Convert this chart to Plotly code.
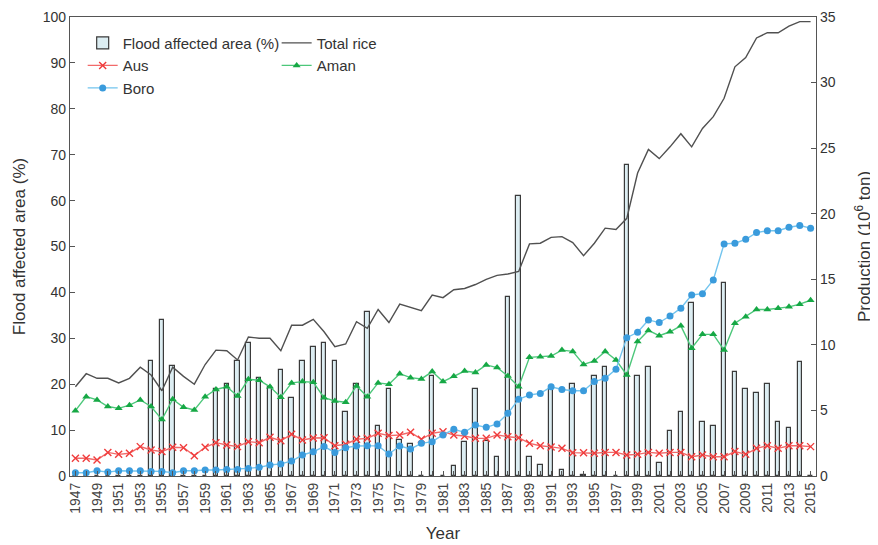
import plotly.graph_objects as go

years = list(range(1947, 2016))

flood_pct = [0, 0, 0, 0, 0, 0, 0, 25, 34, 24, 0, 0, 0, 19, 20, 25, 29, 21.3, 19.5, 23,
             17, 25, 28, 29, 25, 14, 20, 35.8, 11, 19, 7.8, 6.9, 0, 21.8, 0, 2.2, 7.5, 19, 7.6, 4.2,
             38.9, 60.9, 4.2, 2.5, 18.9, 1.4, 20, 0.3, 21.8, 23.8, 0, 67.8, 21.8, 23.8, 2.9, 9.9, 13.9, 37.8, 11.8, 10.9,
             42, 22.6, 19, 18, 20, 11.8, 10.5, 24.9, 0]

total_rice = [6.8, 7.8, 7.45, 7.45, 7.1, 7.45, 8.3, 7.7, 6.5, 8.3, 7.6, 7.0, 8.5, 9.6, 9.55, 8.85, 10.6, 10.5, 10.5, 9.55,
              11.5, 11.5, 11.95, 11.0, 9.86, 10.07, 11.77, 11.26, 12.7, 11.7, 13.1, 12.87, 12.6, 13.8, 13.6, 14.2, 14.3, 14.6, 15.0, 15.3,
              15.4, 15.6, 17.7, 17.75, 18.2, 18.25, 17.8, 16.8, 17.75, 18.9, 18.8, 19.65, 23.1, 24.9, 24.2, 25.1, 26.1, 25.1, 26.5, 27.4,
              28.8, 31.2, 31.9, 33.4, 33.8, 33.8, 34.3, 34.65, 34.65]

aus = [1.35, 1.35, 1.22, 1.8, 1.65, 1.73, 2.24, 1.98, 1.86, 2.19, 2.16, 1.55, 2.19, 2.54, 2.36, 2.24, 2.62, 2.54, 2.95, 2.69,
       3.18, 2.75, 2.9, 2.92, 2.31, 2.42, 2.8, 2.87, 3.26, 3.08, 3.13, 3.33, 2.8, 3.26, 3.38, 3.13, 3.05, 2.87, 2.87, 3.13,
       3.0, 2.92, 2.49, 2.31, 2.22, 2.11, 1.78, 1.78, 1.73, 1.8, 1.8, 1.6, 1.65, 1.8, 1.73, 1.8, 1.8, 1.47, 1.6, 1.47,
       1.47, 1.86, 1.65, 2.11, 2.31, 2.11, 2.31, 2.31, 2.24]

aman = [4.98, 6.05, 5.8, 5.3, 5.16, 5.4, 5.8, 5.3, 4.3, 5.85, 5.24, 5.03, 6.05, 6.6, 6.8, 6.1, 7.37, 7.3, 6.8, 6.0,
        7.1, 7.2, 7.15, 5.97, 5.72, 5.62, 6.87, 6.05, 7.1, 7.0, 7.8, 7.5, 7.4, 7.96, 7.2, 7.6, 8.0, 7.9, 8.47, 8.27,
        7.63, 6.8, 9.05, 9.1, 9.15, 9.6, 9.5, 8.5, 8.77, 9.5, 8.85, 7.7, 10.25, 11.1, 10.7, 11.0, 11.45, 9.74, 10.8, 10.8,
        9.6, 11.65, 12.15, 12.7, 12.7, 12.8, 12.9, 13.1, 13.4]

boro = [0.25, 0.25, 0.4, 0.3, 0.4, 0.4, 0.4, 0.35, 0.35, 0.25, 0.4, 0.4, 0.46, 0.46, 0.5, 0.5, 0.58, 0.66, 0.84, 0.92,
        1.14, 1.6, 1.85, 2.24, 1.8, 2.16, 2.29, 2.3, 2.3, 1.68, 2.29, 2.06, 2.49, 2.62, 3.13, 3.56, 3.33, 3.89, 3.71, 3.97,
        4.78, 5.85, 6.18, 6.3, 6.8, 6.6, 6.5, 6.5, 7.2, 7.45, 8.14, 10.55, 10.96, 11.9, 11.7, 12.2, 12.8, 13.8, 13.9, 14.95,
        17.7, 17.75, 18.05, 18.56, 18.7, 18.7, 18.97, 19.1, 18.9]

x_tick_years = list(range(1947, 2016, 2))
left_ticks = list(range(0, 101, 10))
right_ticks = list(range(0, 36, 5))

FONT = "Liberation Sans, Arial, sans-serif"

fig = go.Figure()

fig.add_trace(go.Bar(
    x=years, y=flood_pct, name="Flood affected area (%)", width=0.42,
    marker=dict(color="#dcedf2", line=dict(color="#3a3a3a", width=1.2)),
    yaxis="y", legend="legend",
))
fig.add_trace(go.Scatter(
    x=years, y=total_rice, name="Total rice", mode="lines",
    line=dict(color="#505050", width=1.4), yaxis="y2", legend="legend2",
))
fig.add_trace(go.Scatter(
    x=years, y=aus, name="Aus", mode="lines+markers",
    line=dict(color="#f26a6a", width=1.4),
    marker=dict(symbol="x-thin", size=7, line=dict(color="#f03c3c", width=1.4), color="#f03c3c"),
    yaxis="y2", legend="legend",
))
fig.add_trace(go.Scatter(
    x=years, y=aman, name="Aman", mode="lines+markers",
    line=dict(color="#4cc77a", width=1.4),
    marker=dict(symbol="triangle-up", size=7, color="#16a845"),
    yaxis="y2", legend="legend2",
))
fig.add_trace(go.Scatter(
    x=years, y=boro, name="Boro", mode="lines+markers",
    line=dict(color="#72c4ee", width=1.4),
    marker=dict(symbol="circle", size=7, color="#3a9bdc"),
    yaxis="y2", legend="legend",
))

fig.update_layout(
    width=870, height=537,
    margin=dict(l=62, r=62, t=9, b=69, autoexpand=False),
    paper_bgcolor="white", plot_bgcolor="white",
    font=dict(family=FONT, size=14, color="#333333"),
    bargap=0,
    showlegend=True,
    legend=dict(x=0.017, y=0.979, xanchor="left", yanchor="top", bgcolor="rgba(0,0,0,0)",
                font=dict(size=15, color="#333333"), tracegroupgap=0, itemwidth=30,
                traceorder="normal"),
    legend2=dict(x=0.277, y=0.979, xanchor="left", yanchor="top", bgcolor="rgba(0,0,0,0)",
                 font=dict(size=15, color="#333333"), tracegroupgap=0, itemwidth=30,
                 traceorder="normal"),
    xaxis=dict(
        range=[1946.5, 2015.5], tickmode="array", tickvals=x_tick_years,
        ticktext=[str(y) for y in x_tick_years], tickangle=-90,
        ticks="inside", ticklen=5, tickcolor="#555555",
        minor=dict(dtick=1, tick0=1947, ticks="inside", ticklen=5, tickcolor="#555555"),
        showline=True, linecolor="#555555", linewidth=1.2, mirror=True,
        showgrid=False, zeroline=False,
        tickfont=dict(size=14, color="#444444"),
        title=dict(text="Year", font=dict(size=17, color="#333333"), standoff=14),
    ),
    yaxis=dict(
        range=[0, 100], tickvals=left_ticks, ticks="inside", ticklen=5, tickcolor="#555555",
        showline=True, linecolor="#555555", linewidth=1.2, mirror=True,
        showgrid=False, zeroline=False,
        tickfont=dict(size=14, color="#333333"),
        title=dict(text="Flood affected area (%)", font=dict(size=17, color="#333333"), standoff=12),
    ),
    yaxis2=dict(
        range=[0, 35], tickvals=right_ticks, overlaying="y", side="right",
        ticks="inside", ticklen=5, tickcolor="#555555",
        showline=True, linecolor="#555555", linewidth=1.2,
        showgrid=False, zeroline=False,
        tickfont=dict(size=14, color="#333333"),
        title=dict(text="Production (10<sup>6</sup> ton)", font=dict(size=17, color="#333333"), standoff=23),
    ),
)

fig.write_html("out.html")
